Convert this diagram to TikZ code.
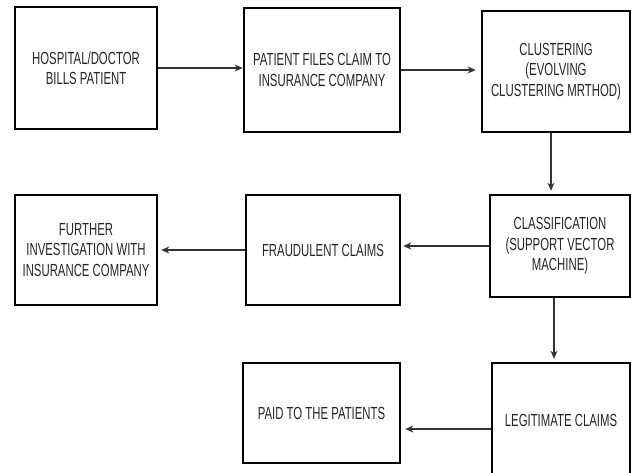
\documentclass[tikz,border=0pt]{standalone}
\usepackage{fontspec}
\setmainfont[FakeStretch=0.65]{Liberation Sans}
\usetikzlibrary{arrows.meta}
\tikzset{
  stagebox/.style={draw=black,line width=2.6pt,align=center,inner sep=0pt,
    text=black!85,font=\fontsize{17.5}{20.5}\selectfont},
  flow/.style={draw=black!80,line width=1.1pt,-{Stealth[length=8pt,width=7pt]}}
}
\begin{document}
\begin{tikzpicture}[x=1pt,y=-1pt]
      \clip (0,0) rectangle (631,473);
      % Nodes: Stages
      \node[stagebox,minimum width=142,minimum height=122] (A) at (86,68) {HOSPITAL/DOCTOR\\BILLS PATIENT};
      \node[stagebox,minimum width=156,minimum height=124] (B) at (322,70) {PATIENT FILES CLAIM TO\\INSURANCE COMPANY};
      \node[stagebox,minimum width=148,minimum height=121] (C) at (556,71.5) {CLUSTERING\\(EVOLVING\\CLUSTERING MRTHOD)};
      \node[stagebox,minimum width=140,minimum height=102] (D) at (560,246) {CLASSIFICATION\\(SUPPORT VECTOR\\MACHINE)};
      \node[stagebox,minimum width=154,minimum height=110] (F) at (323,250) {FRAUDULENT CLAIMS};
      \node[stagebox,minimum width=142,minimum height=110] (E) at (86,250) {FURTHER\\INVESTIGATION WITH\\INSURANCE COMPANY};
      \node[stagebox,minimum width=138,minimum height=114] (G) at (561,420) {LEGITIMATE CLAIMS};
      \node[stagebox,minimum width=157,minimum height=100] (H) at (321.5,413) {PAID TO THE PATIENTS};
      % Arrows: flow of a claim
      \draw[flow] (A.east) -- (A.east -| B.west);
      \draw[flow,shorten >=5pt] (B.east) -- (B.east -| C.west);
      \draw[flow,shorten >=3pt] ([xshift=-5]C.south) -- ([xshift=-5]C.south |- D.north);
      \draw[flow,shorten >=2pt] (D.west) -- (D.west -| F.east);
      \draw[flow,shorten >=3pt] (F.west) -- (F.west -| E.east);
      \draw[flow,shorten >=3pt] ([xshift=-6]D.south) -- ([xshift=-6]D.south |- G.north);
      \draw[flow,shorten >=4pt] ([yshift=-9]G.west) -- ([yshift=-9]G.west -| H.east);
    \end{tikzpicture}
\end{document}
